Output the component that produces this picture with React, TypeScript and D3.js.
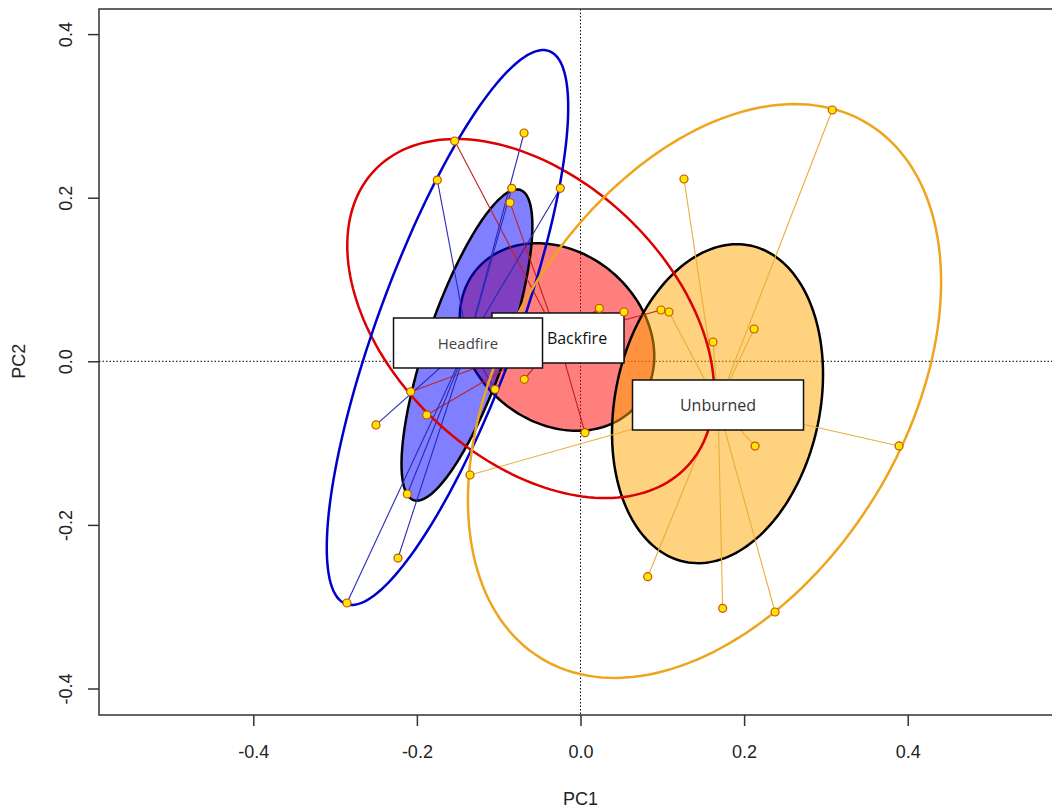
import { useRef, useEffect } from "react";
import * as d3 from "d3";

// Treatment groups (alphabetical, drawing order)
const groups = ["Backfire", "Headfire", "Unburned"];

// Site scores, one pair of arrays per group
const backfirePC1 = [-0.1538, -0.0862, 0.023, 0.0532, 0.0984, 0.0055, -0.0687, -0.2076, -0.188];
const backfirePC2 = [0.2693, 0.194, 0.0648, 0.0603, 0.0627, -0.0873, -0.022, -0.0372, -0.0656];
const headfirePC1 = [-0.069, -0.175, -0.0841, -0.0247, -0.25, -0.2117, -0.2231, -0.2855, -0.1045];
const headfirePC2 = [0.2791, 0.2216, 0.2115, 0.2115, -0.0778, -0.1622, -0.2405, -0.2955, -0.0342];
const unburnedPC1 = [0.1265, 0.3078, 0.1082, 0.162, 0.2122, 0.2134, -0.1351, 0.0822, 0.1738, 0.2378, 0.3894];
const unburnedPC2 = [0.2229, 0.3072, 0.0603, 0.0236, 0.0395, -0.1036, -0.139, -0.2633, -0.302, -0.3065, -0.1035];

// Group centroids (spider centres / label positions)
const centroidPC1 = [-0.0275, -0.1375, 0.1681];
const centroidPC2 = [0.0285, 0.0224, -0.0534];

// Standard deviation ellipses: centre, semi axes, rotation (degrees)
const sdCx = [-0.0287, -0.1388, 0.1675];
const sdCy = [0.0297, 0.0199, -0.0518];
const sdA = [0.1284, 0.2005, 0.1974];
const sdB = [0.1039, 0.0489, 0.1252];
const sdAngle = [-40, 71, 78.3];

// Enclosing ellipses (hulls)
const hullCx = [-0.0609, -0.1626, 0.1516];
const hullCy = [0.0523, 0.0413, -0.0363];
const hullA = [0.2632, 0.3601, 0.383];
const hullB = [0.1708, 0.0847, 0.2449];
const hullAngle = [-43.5, 69.8, 58.5];

const xTicks = [-0.4, -0.2, 0.0, 0.2, 0.4];
const yTicks = [-0.4, -0.2, 0.0, 0.2, 0.4];

const fillCol = ["#ff0000", "#0000ff", "#ffa500"];
const lineCol = ["#dd0000", "#0000cc", "#eea51c"];
const spiderCol = ["#c42020", "#2a2ab8", "#e9ad3a"];
const boxW = [132, 149, 171];
const textDx = [19, 0, 0];
const textCol = ["#111", "#444", "#333"];

const App = () => {
  const svgRef = useRef<SVGSVGElement>(null);

  useEffect(() => {
    const svg = d3.select(svgRef.current);
    svg.selectAll("*").remove();

    const x = d3.scaleLinear().domain([-0.5886, 0.5886]).range([99, 1062]);
    const y = d3.scaleLinear().domain([-0.4324, 0.4307]).range([715, 9]);
    const font = "'Liberation Sans', Arial, sans-serif";
    const fmt = (d: any) => (+d).toFixed(1);

    const pc1 = [backfirePC1, headfirePC1, unburnedPC1];
    const pc2 = [backfirePC2, headfirePC2, unburnedPC2];

    const line = d3
      .line<number[]>()
      .x((p) => x(p[0]))
      .y((p) => y(p[1]))
      .curve(d3.curveLinearClosed);

    const ellipse = (cx: number, cy: number, a: number, b: number, deg: number) => {
      const t = (deg * Math.PI) / 180;
      const pts = d3.range(0, 360, 2).map((d) => {
        const u = (d * Math.PI) / 180;
        const ex = a * Math.cos(u);
        const ey = b * Math.sin(u);
        return [cx + ex * Math.cos(t) - ey * Math.sin(t), cy + ex * Math.sin(t) + ey * Math.cos(t)];
      });
      return line(pts);
    };

    // zero lines
    svg
      .append("line")
      .attr("x1", x(0))
      .attr("x2", x(0))
      .attr("y1", 9)
      .attr("y2", 715)
      .attr("stroke", "#000")
      .attr("stroke-width", 1)
      .attr("stroke-dasharray", "1.5,2");
    svg
      .append("line")
      .attr("x1", 99)
      .attr("x2", 1062)
      .attr("y1", y(0))
      .attr("y2", y(0))
      .attr("stroke", "#000")
      .attr("stroke-width", 1)
      .attr("stroke-dasharray", "1.5,2");

    // sd ellipses, filled
    groups.forEach((g, i) => {
      svg
        .append("path")
        .attr("d", ellipse(sdCx[i], sdCy[i], sdA[i], sdB[i], sdAngle[i]))
        .attr("fill", fillCol[i])
        .attr("fill-opacity", 0.5)
        .attr("stroke", "#000")
        .attr("stroke-width", 2.5);
    });

    // spiders
    groups.forEach((g, i) => {
      svg
        .append("g")
        .selectAll("line")
        .data(pc1[i])
        .join("line")
        .attr("x1", (d) => x(d))
        .attr("y1", (d, j) => y(pc2[i][j]))
        .attr("x2", x(centroidPC1[i]))
        .attr("y2", y(centroidPC2[i]))
        .attr("stroke", spiderCol[i])
        .attr("stroke-width", 1.1);
    });

    // enclosing ellipses
    groups.forEach((g, i) => {
      svg
        .append("path")
        .attr("d", ellipse(hullCx[i], hullCy[i], hullA[i], hullB[i], hullAngle[i]))
        .attr("fill", "none")
        .attr("stroke", lineCol[i])
        .attr("stroke-width", 2.5);
    });

    // labels
    groups.forEach((g, i) => {
      const cx = x(centroidPC1[i]);
      const cy = y(centroidPC2[i]);
      svg
        .append("rect")
        .attr("x", cx - boxW[i] / 2)
        .attr("y", cy - 25)
        .attr("width", boxW[i])
        .attr("height", 50)
        .attr("fill", "#fff")
        .attr("stroke", "#111")
        .attr("stroke-width", 1.5);
      svg
        .append("text")
        .attr("x", cx + textDx[i])
        .attr("y", cy + 6)
        .attr("text-anchor", "middle")
        .attr("font-family", "'Open Sans', 'Noto Sans', sans-serif")
        .attr("font-size", i === 1 ? "15px" : "16px")
        .attr("fill", textCol[i])
        .text(g);
    });

    // points
    groups.forEach((g, i) => {
      svg
        .append("g")
        .selectAll("circle")
        .data(pc1[i])
        .join("circle")
        .attr("cx", (d) => x(d))
        .attr("cy", (d, j) => y(pc2[i][j]))
        .attr("r", 4)
        .attr("fill", "#ffe600")
        .attr("stroke", "#c8500a")
        .attr("stroke-width", 1.2);
    });

    // frame
    svg
      .append("rect")
      .attr("x", 99)
      .attr("y", 9)
      .attr("width", 963)
      .attr("height", 706)
      .attr("fill", "none")
      .attr("stroke", "#333")
      .attr("stroke-width", 1.5);

    // x axis
    const xAxis = d3
      .axisBottom(x)
      .tickValues(xTicks)
      .tickSize(11)
      .tickPadding(19)
      .tickFormat(fmt);
    const gx = svg.append("g").attr("transform", "translate(0,715)").call(xAxis);
    gx.select(".domain").remove();
    gx.selectAll("line").attr("stroke", "#333").attr("stroke-width", 1.5);
    gx.selectAll("text")
      .attr("font-family", font)
      .attr("font-size", "18px")
      .attr("fill", "#222");

    // y axis
    const yAxis = d3.axisLeft(y).tickValues(yTicks).tickSize(11).tickFormat(fmt);
    const gy = svg.append("g").attr("transform", "translate(99,0)").call(yAxis);
    gy.select(".domain").remove();
    gy.selectAll("line").attr("stroke", "#333").attr("stroke-width", 1.5);
    gy.selectAll("text")
      .attr("x", 0)
      .attr("y", 0)
      .attr("dy", 0)
      .attr("transform", "translate(-27,0) rotate(-90)")
      .attr("text-anchor", "middle")
      .attr("font-family", font)
      .attr("font-size", "18px")
      .attr("fill", "#222");

    // axis titles
    svg
      .append("text")
      .attr("x", x(0))
      .attr("y", 805)
      .attr("text-anchor", "middle")
      .attr("font-family", font)
      .attr("font-size", "18px")
      .attr("fill", "#222")
      .text("PC1");
    svg
      .append("text")
      .attr("transform", `translate(25,${y(0)}) rotate(-90)`)
      .attr("text-anchor", "middle")
      .attr("font-family", font)
      .attr("font-size", "18px")
      .attr("fill", "#222")
      .text("PC2");
  }, []);

  return (
    <svg
      ref={svgRef}
      width={1052}
      height={810}
      style={{ position: "absolute", left: 0, top: 0, background: "#fff" }}
    ></svg>
  );
};

export default App;
